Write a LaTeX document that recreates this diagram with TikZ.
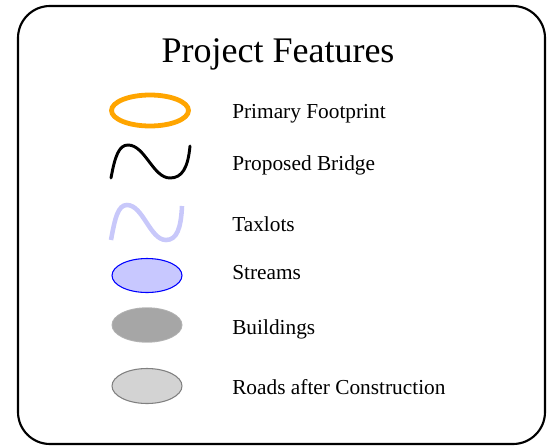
\documentclass[tikz,border=0pt]{standalone}
\usepackage{fontspec}
\setmainfont{Liberation Serif}
\definecolor{footorange}{RGB}{255,165,0}
\definecolor{taxlav}{RGB}{200,200,250}
\definecolor{streamfill}{RGB}{200,200,255}
\definecolor{bldgray}{RGB}{166,166,166}
\definecolor{roadfill}{RGB}{211,211,211}
\definecolor{roadedge}{RGB}{128,128,128}
\tikzset{
  legendlabel/.style={anchor=base west, inner sep=0pt, font=\fontsize{16pt}{19pt}\selectfont},
  frame/.style={draw=black, line width=1.6pt, rounded corners=24pt},
}
\begin{document}
\begin{tikzpicture}[x=0.75pt, y=-0.75pt]
\useasboundingbox (0,0) rectangle (547,447);
\draw[frame] (18,6) rectangle (545,444);
\node[anchor=base, inner sep=0pt, font=\fontsize{27pt}{32pt}\selectfont] (title) at (278,62) {Project Features};
% symbols
\draw[footorange, line width=3.6pt] (150,110.5) ellipse [x radius=38.5, y radius=15.5];
\draw[black, line width=2.2pt, line cap=round] (111,178) .. controls (115,156) and (119,145) .. (128,145) .. controls (145,145) and (153,178) .. (170,178) .. controls (182,178) and (188,168) .. (190,146);
\draw[taxlav, line width=3.4pt] (111,240) .. controls (115,218) and (118,205) .. (127,205) .. controls (143,205) and (150,240) .. (166,240) .. controls (177,240) and (181,228) .. (182,206);
\draw[blue, fill=streamfill, line width=0.8pt] (147,275.5) ellipse [x radius=35, y radius=17];
\fill[bldgray!85] (147,325) ellipse [x radius=35.5, y radius=17.7];
\fill[bldgray] (147,325) ellipse [x radius=34.5, y radius=16.8];
\draw[roadedge, fill=roadfill, line width=0.8pt] (147,386) ellipse [x radius=35, y radius=17.5];
% labels
\node[legendlabel] (l1) at (232,118) {Primary Footprint};
\node[legendlabel] (l2) at (232,170) {Proposed Bridge};
\node[legendlabel] (l3) at (232,231) {Taxlots};
\node[legendlabel] (l4) at (232,279) {Streams};
\node[legendlabel] (l5) at (232,334) {Buildings};
\node[legendlabel] (l6) at (232,394) {Roads after Construction};
\end{tikzpicture}
\end{document}
